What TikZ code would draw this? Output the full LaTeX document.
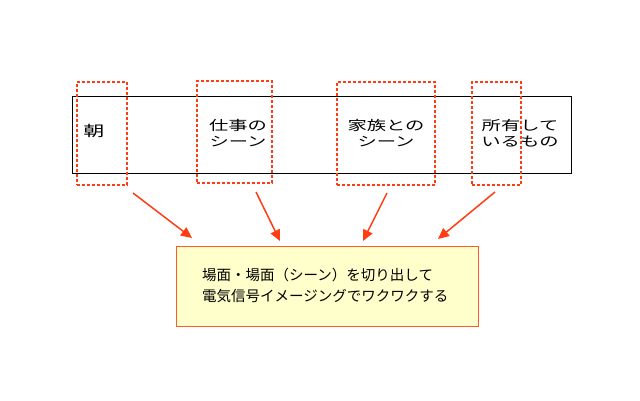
\documentclass[tikz,border=0pt]{standalone}
\usepackage{fontspec}
\setmainfont{Noto Sans CJK JP}
\newfontfamily\jpwide[FakeStretch=1.45]{Noto Sans CJK JP}
\newfontfamily\jp{Noto Sans CJK JP}
\usetikzlibrary{arrows.meta}
\definecolor{redor}{RGB}{255,60,20}
\definecolor{paleyel}{RGB}{255,255,204}
\definecolor{yelbord}{RGB}{255,90,40}
\begin{document}
\begin{tikzpicture}[x=1pt,y=-1pt,
  dbox/.style={draw=redor,line width=1.8pt,dash pattern=on 3pt off 2pt,minimum width=#1,minimum height=103pt,inner sep=0pt},
  lbl/.style={font=\jpwide\fontsize{13.3}{16}\selectfont,align=center,inner sep=0pt},
  arr/.style={draw=redor,line width=1.5pt,-{Triangle[length=11pt,width=10pt]}}]
\path[use as bounding box] (0,0) rectangle (640,400);
\fill[white] (0,0) rectangle (640,400);
% big frame
\node[draw=black,line width=0.9pt,minimum width=499pt,minimum height=77pt,inner sep=0pt] (frame) at (321.5,134.5) {};
% labels
\node[lbl,font=\jpwide\fontsize{14.5}{16}\selectfont] (t1) at (94,131) {朝};
\node[lbl] (t2) at (238,133) {仕事の\\シーン};
\node[lbl] (t3) at (386,133) {家族との\\シーン};
\node[lbl] (t4) at (520,133) {所有して\\いるもの};
% dashed boxes
\node[dbox=50pt] (d1) at (102,133.5) {};
\node[dbox=75pt,minimum height=102pt] (d2) at (234.5,132) {};
\node[dbox=98pt] (d3) at (386,133.5) {};
\node[dbox=49pt] (d4) at (496.5,133.5) {};
% result box
\node[draw=yelbord,fill=paleyel,line width=0.9pt,minimum width=302pt,minimum height=80pt,inner sep=0pt] (res) at (327,286) {};
\node[font=\jp\fontsize{14.5}{21}\selectfont,align=left,anchor=north west,inner sep=0pt] (rtext) at (202,268) {場面・場面（シーン）を切り出して\\電気信号イメージングでワクワクする};
% arrows
\coordinate (s1) at (133,193); \coordinate (e1) at (192,238);
\coordinate (s2) at (256,192); \coordinate (e2) at (280,241);
\coordinate (s3) at (387,193); \coordinate (e3) at (363,241);
\coordinate (s4) at (495,192); \coordinate (e4) at (438,239);
\draw[arr] (s1) -- (e1);
\draw[arr] (s2) -- (e2);
\draw[arr] (s3) -- (e3);
\draw[arr] (s4) -- (e4);
\end{tikzpicture}
\end{document}
